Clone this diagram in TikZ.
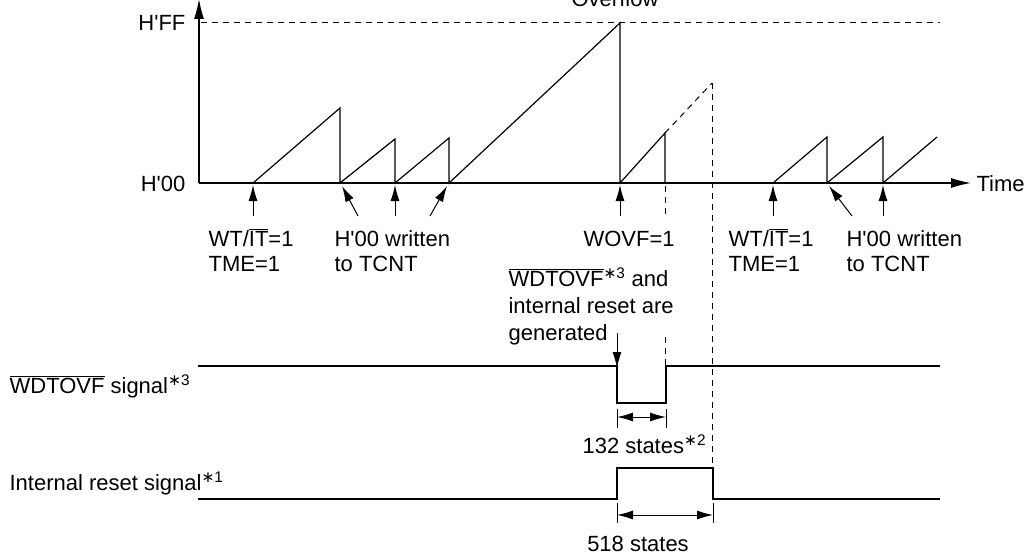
\documentclass[tikz,border=0pt]{standalone}
\usepackage{fontspec}
\setmainfont{Liberation Sans}
\newfontfamily\symf{DejaVu Sans}
\newcommand\supast[1]{\textsuperscript{{\symf ∗}#1}}
\newcommand\q{\textquotesingle}
\usetikzlibrary{arrows.meta}
\begin{document}
\begin{tikzpicture}[x=1pt,y=-1pt,
  line width=1.2pt,
  lbl/.style={inner sep=0pt, anchor=base west, font=\fontsize{22}{26}\selectfont},
  ann/.style={line width=1pt,-{Latex[length=16pt,width=9pt]}},
  axis/.style={-{Latex[length=20pt,width=10pt]}},
  dim/.style={line width=1pt,{Latex[length=16pt,width=9pt]}-{Latex[length=16pt,width=9pt]}},
  tick/.style={line width=1pt},
  dsh/.style={dash pattern=on 6pt off 5pt, line width=1pt},
]
\useasboundingbox (0,0) rectangle (1035,556);

% ---------- axes ----------
\coordinate (O) at (199,183);
\coordinate (ytop) at (199,-1);
\coordinate (xend) at (971,183);
\draw[axis] (O) -- (ytop);
\draw[axis] (O) -- (xend);
\node[lbl, anchor=base east] (hff) at (186,31) {H\q FF};
\node[lbl, anchor=base east] (h00) at (186,191) {H\q 00};
\node[lbl] (time) at (976,191) {Time};
\node[lbl, anchor=base] (ovf) at (615,7) {Overflow};
\coordinate (ff) at (201,23);
\coordinate (ffend) at (940,23);
\draw[dsh] (ff) -- (ffend);

% ---------- sawtooth ----------
\coordinate (s1) at (253,183);
\coordinate (p1) at (340,108);
\coordinate (s2) at (340,183);
\coordinate (p2) at (395,139);
\coordinate (s3) at (395,183);
\coordinate (p3) at (449,138);
\coordinate (s4) at (449,183);
\coordinate (p4) at (620,23);
\coordinate (s5) at (620,183);
\coordinate (p5) at (665,133);
\coordinate (s6) at (665,183);
\coordinate (q)  at (712,83);
\draw[line join=miter] (s1) -- (p1) -- (s2) -- (p2) -- (s3) -- (p3) -- (s4) -- (p4) -- (s5) -- (p5) -- (s6);
\draw[dsh] (p5) -- (q);

\coordinate (r1) at (773,183);
\coordinate (rp1) at (827,137);
\coordinate (r2) at (827,183);
\coordinate (rp2) at (883,137);
\coordinate (r3) at (883,183);
\coordinate (rend) at (937,137);
\draw (r1) -- (rp1) -- (r2) -- (rp2) -- (r3) -- (rend);

% ---------- annotation arrows ----------
\coordinate (a1) at (253,216);
\coordinate (a2) at (358,216);
\coordinate (a2t) at (342,186);
\coordinate (a3) at (395,216);
\coordinate (a4) at (430,216);
\coordinate (a4t) at (447,186);
\coordinate (a5) at (620,216);
\coordinate (a6) at (773,216);
\coordinate (a7) at (852,216);
\coordinate (a7t) at (829,186);
\coordinate (a8) at (883,216);
\draw[ann] (a1) -- ([yshift=-2pt]s1);
\draw[ann] (a2) -- (a2t);
\draw[ann] (a3) -- ([yshift=-2pt]s3);
\draw[ann] (a4) -- (a4t);
\draw[ann] (a5) -- ([yshift=-2pt]s5);
\draw[ann] (a6) -- ([yshift=-2pt]r1);
\draw[ann] (a7) -- (a7t);
\draw[ann] (a8) -- ([yshift=-2pt]r3);

% ---------- labels ----------
\node[lbl] (wt1) at (208,246) {WT/$\overline{\mbox{IT}}$=1};
\node[lbl] (tme1) at (208,271) {TME=1};
\node[lbl] (hw1) at (334,246) {H\q 00 written};
\node[lbl] (tc1) at (334,271) {to TCNT};
\node[lbl] (wovf) at (583,246) {WOVF=1};
\node[lbl] (gen1) at (508,286) {$\overline{\mbox{WDTOVF}}$\supast{3} and};
\node[lbl] (gen2) at (508,313) {internal reset are};
\node[lbl] (gen3) at (508,340) {generated};
\node[lbl] (wt2) at (728,246) {WT/$\overline{\mbox{IT}}$=1};
\node[lbl] (tme2) at (728,271) {TME=1};
\node[lbl] (hw2) at (846,246) {H\q 00 written};
\node[lbl] (tc2) at (846,271) {to TCNT};
\node[lbl] (sigw) at (9,393) {$\overline{\mbox{WDTOVF}}$ signal\supast{3}};
\node[lbl] (sigr) at (9,490) {Internal reset signal\supast{1}};
\node[lbl] (st132) at (582,453) {132 states\supast{2}};
\node[lbl, anchor=base] (st518) at (638,551) {518 states};

% ---------- dashed guides ----------
\coordinate (d1a) at (665,186);
\coordinate (d1b) at (665,215);
\coordinate (d1c) at (665,337);
\coordinate (d1d) at (665,366);
\coordinate (d2b) at (712,468);
\draw[dsh] (d1a) -- (d1b);
\draw[dsh] (d1c) -- (d1d);
\draw[dsh] (q) -- (d2b);

% ---------- signals ----------
\coordinate (w0) at (198,366);
\coordinate (wf) at (617,366);
\coordinate (wl) at (617,403);
\coordinate (wr) at (666,403);
\coordinate (wu) at (666,366);
\coordinate (wend) at (940,366);
\draw (w0) -- (wf) -- (wl) -- (wr) -- (wu) -- (wend);

\coordinate (i0) at (198,499);
\coordinate (ir) at (617,499);
\coordinate (ih) at (617,468);
\coordinate (ihe) at (713,468);
\coordinate (if) at (713,499);
\coordinate (iend) at (940,499);
\draw (i0) -- (ir) -- (ih) -- (ihe) -- (if) -- (iend);

% generated arrow
\coordinate (g0) at (617,333);
\draw[ann] (g0) -- ([yshift=-2pt]wf);

% ---------- dimensions ----------
\coordinate (t1a) at (617,409);
\coordinate (t1b) at (617,428);
\coordinate (t2a) at (666,409);
\coordinate (t2b) at (666,428);
\draw[tick] (t1a) -- (t1b);
\draw[tick] (t2a) -- (t2b);
\coordinate (da) at (617,417);
\coordinate (db) at (666,417);
\draw[dim] (da) -- (db);

\coordinate (u1a) at (617,503);
\coordinate (u1b) at (617,523);
\coordinate (u2a) at (713,503);
\coordinate (u2b) at (713,523);
\draw[tick] (u1a) -- (u1b);
\draw[tick] (u2a) -- (u2b);
\coordinate (ea) at (617,515);
\coordinate (eb) at (713,515);
\draw[dim] (ea) -- (eb);
\end{tikzpicture}
\end{document}
